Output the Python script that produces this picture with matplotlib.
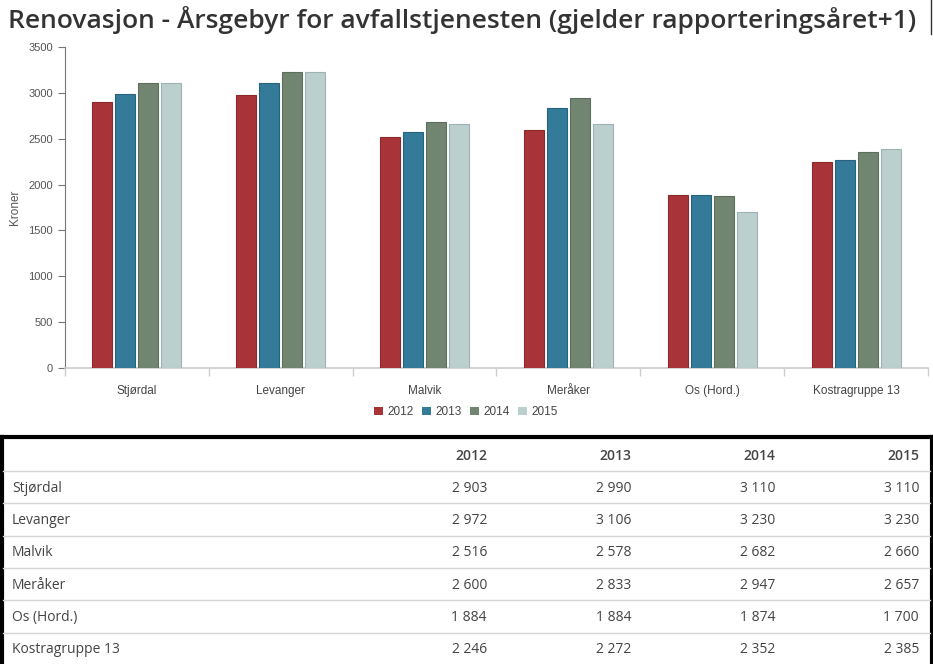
import numpy as np
import matplotlib
matplotlib.use("Agg")
import matplotlib.pyplot as plt
from matplotlib.patches import Patch
from matplotlib.lines import Line2D

# data (Kroner)
kommuner = ['Stjørdal', 'Levanger', 'Malvik', 'Meråker', 'Os (Hord.)', 'Kostragruppe 13']
years = ['2012', '2013', '2014', '2015']
v2012 = [2903, 2972, 2516, 2600, 1884, 2246]
v2013 = [2990, 3106, 2578, 2833, 1884, 2272]
v2014 = [3110, 3230, 2682, 2947, 1874, 2352]
v2015 = [3110, 3230, 2660, 2657, 1700, 2385]
series = [v2012, v2013, v2014, v2015]

colors = ['#a83438', '#347a99', '#718571', '#bccfcf']
edges = ['#8a2a2d', '#28627c', '#5c6e5c', '#9fb2b2']

W, H = 933, 664
fig = plt.figure(figsize=(W / 100, H / 100), dpi=100)

def fx(px):
    return px / W

def fy(py):
    return 1 - py / H

# title
fig.text(fx(8), fy(20), 'Renovasjon - Årsgebyr for avfallstjenesten (gjelder rapporteringsåret+1)',
         family='Open Sans', fontweight='semibold', fontsize=19, color='#333333',
         ha='left', va='center')
fig.add_artist(Line2D([fx(931), fx(931)], [fy(0), fy(34)], color='#333333', lw=1))

# chart
ax = fig.add_axes([fx(65), fy(368), fx(928) - fx(65), fy(47) - fy(368)])
step = 23 / 143.8
width = 20 / 143.8
x = np.arange(len(kommuner))
for j, vals in enumerate(series):
    ax.bar(x + (j - 1.5) * step, vals, width, color=colors[j], edgecolor=edges[j],
           linewidth=0.8, zorder=3)

ax.set_xlim(-0.5, len(kommuner) - 0.5)
ax.set_ylim(0, 3500)
ax.set_yticks(np.arange(0, 3501, 500))
ax.set_xticks(x)
ax.set_xticklabels(kommuner, family='Liberation Sans', fontsize=8.5, color='#444444')
ax.set_xticks(np.arange(-0.5, len(kommuner), 1), minor=True)
ax.tick_params(axis='x', which='major', length=0, pad=12)
ax.tick_params(axis='x', which='minor', length=6, color='#cccccc', width=1)
ax.tick_params(axis='y', length=5, color='#777777', labelsize=8, labelcolor='#555555')
for lab in ax.get_yticklabels():
    lab.set_family('Liberation Sans')
for s in ['top', 'right']:
    ax.spines[s].set_visible(False)
ax.spines['left'].set_color('#777777')
ax.spines['bottom'].set_color('#cccccc')
ax.spines['bottom'].set_linewidth(1.2)
ax.set_ylabel('Kroner', family='Liberation Sans', fontsize=8.5, color='#555555')
ax.yaxis.set_label_coords(-0.051, 0.5)

handles = [Patch(facecolor=c, edgecolor='none') for c in colors]
fig.legend(handles, years, loc='center', bbox_to_anchor=(fx(466), fy(412)), ncol=4,
           frameon=False, handlelength=0.75, handleheight=0.75, handletextpad=0.4,
           columnspacing=0.7, prop={'family': 'Liberation Sans', 'size': 8.5},
           labelcolor='#444444')

# table
border = '#000000'
fig.add_artist(Line2D([fx(0), fx(933)], [fy(437), fy(437)], color=border, lw=3))
fig.add_artist(Line2D([fx(1.5), fx(1.5)], [fy(437), fy(664)], color=border, lw=3))
fig.add_artist(Line2D([fx(931.5), fx(931.5)], [fy(437), fy(664)], color=border, lw=3))

col_right = [487, 631, 775, 919]
header_y = 456
for cx, yr in zip(col_right, years):
    fig.text(fx(cx), fy(header_y), yr, family='Open Sans', fontweight='semibold',
             fontsize=10, color='#444444', ha='right', va='center')

row_h = 32.3
line_y0 = 471
for i, name in enumerate(kommuner):
    ly = line_y0 + i * row_h
    fig.add_artist(Line2D([fx(3), fx(930)], [fy(ly), fy(ly)], color='#d5d5d5', lw=1))
    cy = ly + row_h / 2 + 1
    fig.text(fx(12), fy(cy), name, family='Open Sans', fontsize=10, color='#444444',
             ha='left', va='center')
    for cx, vals in zip(col_right, series):
        txt = f'{vals[i]:,}'.replace(',', ' ')
        fig.text(fx(cx), fy(cy), txt, family='Open Sans', fontsize=10, color='#444444',
                 ha='right', va='center')

fig.savefig('out.png', dpi=100)
